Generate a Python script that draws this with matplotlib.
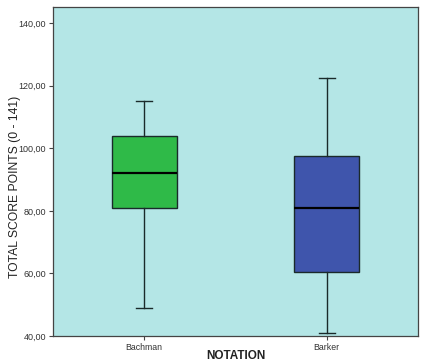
import matplotlib
matplotlib.use("Agg")
import matplotlib.pyplot as plt

plt.rcParams['font.family'] = ['Liberation Sans', 'DejaVu Sans']

categories = ["Bachman", "Barker"]
whisker_low = [49.0, 41.0]
q1 = [81.0, 60.5]
median = [92.0, 81.0]
q3 = [104.0, 97.5]
whisker_high = [115.0, 122.5]
colors = ["#2fba48", "#3f55ac"]
yticks = [40, 60, 80, 100, 120, 140]

fig = plt.figure(figsize=(4.24, 3.62), dpi=100)
ax = fig.add_axes([53/424, 1 - 336/362, 365/424, 329/362])
ax.set_facecolor("#b4e6e6")

stats = []
for i, c in enumerate(categories):
    stats.append(dict(label=c, whislo=whisker_low[i], q1=q1[i], med=median[i],
                      q3=q3[i], whishi=whisker_high[i], fliers=[]))
bp = ax.bxp(stats, positions=[1, 2], widths=0.355, patch_artist=True,
            showfliers=False,
            boxprops=dict(linewidth=1.0, edgecolor="#1a2a2a"),
            medianprops=dict(color="black", linewidth=1.6),
            whiskerprops=dict(color="#1a2a2a", linewidth=1.0),
            capprops=dict(color="#1a2a2a", linewidth=1.0),
            capwidths=0.09)
for patch, col in zip(bp["boxes"], colors):
    patch.set_facecolor(col)

ax.set_xlim(0.5, 2.5)
ax.set_ylim(40, 145.2)
ax.set_yticks(yticks)
ax.set_yticklabels([f"{v},00" for v in yticks], fontsize=6.5, color="#333333")
ax.set_xticks([1, 2])
ax.set_xticklabels(categories, fontsize=6.3, color="#333333")
ax.tick_params(length=3, width=0.8, color="#444444", pad=2)
for s in ax.spines.values():
    s.set_color("#444444")
    s.set_linewidth(0.9)

ax.set_ylabel("TOTAL SCORE POINTS (0 - 141)", fontsize=8.7, color="#222222",
              va="center")
ax.yaxis.set_label_coords(-0.105, 0.453)
ax.set_xlabel("NOTATION", fontsize=8.5, fontweight="bold", color="#222222",
              va="center")
ax.xaxis.set_label_coords(0.5, -0.062)

fig.savefig("out.png", dpi=100)
